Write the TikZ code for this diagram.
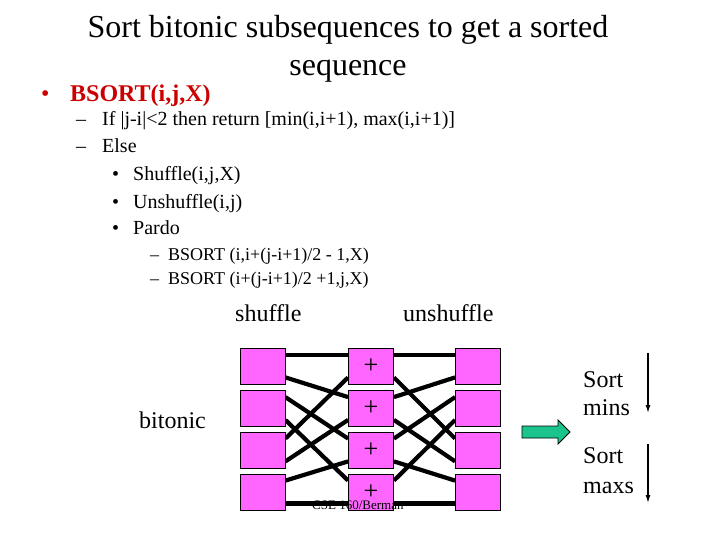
\documentclass[tikz,border=0pt]{standalone}
\usepackage{fontspec}
\setmainfont{Liberation Serif}
\usetikzlibrary{arrows.meta,backgrounds}
\definecolor{boxpink}{RGB}{255,102,255}
\definecolor{arrowgreen}{RGB}{26,196,140}
\definecolor{bsortred}{RGB}{204,0,0}

\begin{document}
\begin{tikzpicture}[x=1pt, y=-1pt,
    cell/.style={draw, line width=0.8pt, fill=boxpink, minimum width=45pt, minimum height=36pt, inner sep=0pt, font=\fontsize{26}{26}\selectfont},
    wire/.style={line width=4.2pt},
    txt/.style={anchor=base west, inner sep=0pt},
    arr/.style={-{Latex[length=8pt,width=5pt]}, line width=1.3pt}
]
\useasboundingbox (0,0) rectangle (720,540);

% title and the algorithm
\node[anchor=base, align=center, inner sep=0pt, font=\fontsize{32}{38}\selectfont] (title) at (348,76) {Sort bitonic subsequences to get a sorted\\sequence};
\node[txt, font=\fontsize{24}{29}\selectfont, text=bsortred] (dot) at (41,102) {•};
\node[txt, font=\bfseries\fontsize{24}{29}\selectfont, text=bsortred] (bsort) at (70,102) {BSORT(i,j,X)};
\node[txt, font=\fontsize{20}{24}\selectfont] (dash1) at (76,126) {–};
\node[txt, font=\fontsize{20}{24}\selectfont] (cond) at (102,126) {If |j-i|<2 then return [min(i,i+1), max(i,i+1)]};
\node[txt, font=\fontsize{20}{24}\selectfont] (dash2) at (76,153) {–};
\node[txt, font=\fontsize{20}{24}\selectfont] (else) at (102,153) {Else};
\node[txt, font=\fontsize{20}{24}\selectfont] (dot1) at (112,181) {•};
\node[txt, font=\fontsize{20}{24}\selectfont] (shufcall) at (133,181) {Shuffle(i,j,X)};
\node[txt, font=\fontsize{20}{24}\selectfont] (dot2) at (112,208) {•};
\node[txt, font=\fontsize{20}{24}\selectfont] (unshufcall) at (133,208) {Unshuffle(i,j)};
\node[txt, font=\fontsize{20}{24}\selectfont] (dot3) at (112,235) {•};
\node[txt, font=\fontsize{20}{24}\selectfont] (pardo) at (133,235) {Pardo};
\node[txt, font=\fontsize{18}{22}\selectfont] (dash3) at (150,260) {–};
\node[txt, font=\fontsize{18}{22}\selectfont] (low) at (168,260) {BSORT (i,i+(j-i+1)/2 - 1,X)};
\node[txt, font=\fontsize{18}{22}\selectfont] (dash4) at (150,284) {–};
\node[txt, font=\fontsize{18}{22}\selectfont] (high) at (168,284) {BSORT (i+(j-i+1)/2 +1,j,X)};

% network
\node[txt, font=\fontsize{24}{29}\selectfont] (shuf) at (235,321) {shuffle};
\node[txt, font=\fontsize{24}{29}\selectfont] (unshuf) at (403,321) {unshuffle};
\node[txt, font=\fontsize{24}{29}\selectfont] (bitonic) at (139,428) {bitonic};

\foreach \i/\y in {1/366,2/408.5,3/450,4/492} {
  \node[cell] (l\i) at (262.5,\y) {};
  \node[cell] (m\i) at (371,\y) {+};
  \node[cell] (r\i) at (478,\y) {};
  \coordinate (l\i a) at ([yshift=-7pt]l\i.north east);
  \coordinate (l\i b) at ([yshift=7pt]l\i.south east);
  \coordinate (m\i a) at ([yshift=-7pt]m\i.north west);
  \coordinate (m\i b) at ([yshift=7pt]m\i.south west);
  \coordinate (m\i c) at ([yshift=-7pt]m\i.north east);
  \coordinate (m\i d) at ([yshift=7pt]m\i.south east);
  \coordinate (r\i a) at ([yshift=-7pt]r\i.north west);
  \coordinate (r\i b) at ([yshift=7pt]r\i.south west);
}

\begin{scope}[on background layer]
\draw[wire] (l1a) -- (m1a);
\draw[wire] (l1b) -- (m2a);
\draw[wire] (l2a) -- (m3a);
\draw[wire] (l2b) -- (m4a);
\draw[wire] (l3a) -- (m1b);
\draw[wire] (l3b) -- (m2b);
\draw[wire] (l4a) -- (m3b);
\draw[wire] (l4b) -- (m4b);
\draw[wire] (m1c) -- (r1a);
\draw[wire] (m1d) -- (r3a);
\draw[wire] (m2c) -- (r1b);
\draw[wire] (m2d) -- (r3b);
\draw[wire] (m3c) -- (r2a);
\draw[wire] (m3d) -- (r4a);
\draw[wire] (m4c) -- (r2b);
\draw[wire] (m4d) -- (r4b);
\end{scope}

\node[txt, font=\fontsize{13}{15}\selectfont] (credit) at (312,509) {CSE 160/Berman};

% green arrow and sorting labels
\draw[fill=arrowgreen, line width=0.8pt] (522,426) -- (558,426) -- (558,420) -- (570,432) -- (558,444) -- (558,438) -- (522,438) -- cycle;
\node[anchor=base west, align=left, inner sep=0pt, font=\fontsize{24}{28}\selectfont] (mins) at (583,415) {Sort\\mins};
\node[anchor=base west, align=left, inner sep=0pt, font=\fontsize{24}{30}\selectfont] (maxs) at (583,493) {Sort\\maxs};
\coordinate (mtop) at (648,353);
\coordinate (mbot) at (648,413);
\coordinate (xtop) at (648,444);
\coordinate (xbot) at (648,503);
\draw[arr] (mtop) -- (mbot);
\draw[arr] (xtop) -- (xbot);
\end{tikzpicture}
\end{document}
